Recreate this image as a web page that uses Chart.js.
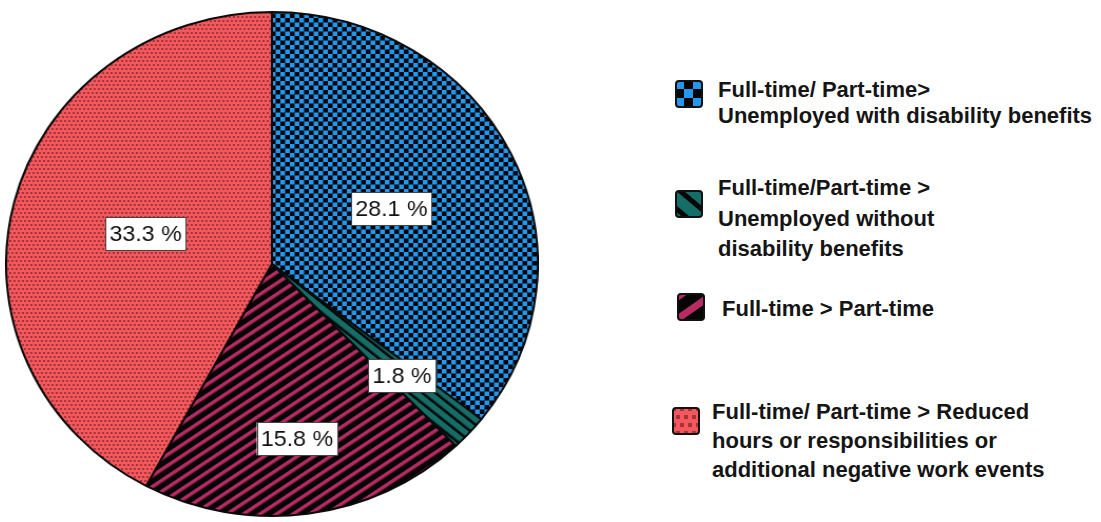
<!DOCTYPE html>
<html>
<head>
<meta charset="utf-8">
<script src="https://cdn.jsdelivr.net/npm/chart.js@4.4.1/dist/chart.umd.min.js"></script>
<style>
  html, body { margin: 0; padding: 0; background: #fff; }
  body { width: 1101px; height: 522px; position: relative; overflow: hidden; }
  #pieWrap { position: absolute; left: 5px; top: 0; width: 506px; height: 522px;
             transform: scaleX(1.055); transform-origin: 0 0; }
  .item { position: absolute; font-family: "Liberation Sans", Arial, sans-serif;
          font-weight: bold; font-size: 22px; color: #151515; white-space: nowrap; }
  .swatch { position: absolute; }
</style>
</head>
<body>
<div id="pieWrap"><canvas id="pieCanvas"></canvas></div>
<div id="legend"></div>

<script>
// data
const categories = [
    "Full-time/ Part-time> Unemployed with disability benefits",
    "Full-time/Part-time > Unemployed without disability benefits",
    "Full-time > Part-time",
    "Full-time/ Part-time > Reduced hours or responsibilities or additional negative work events"
];
const shares = [28.1, 1.8, 15.8, 33.3]; // percent
const valueLabels = ["28.1 %", "1.8 %", "15.8 %", "33.3 %"];

// legend lines as they wrap in the figure
const legendLines = [
    ["Full-time/ Part-time>", "Unemployed with disability benefits"],
    ["Full-time/Part-time >", "Unemployed without", "disability benefits"],
    ["Full-time > Part-time"],
    ["Full-time/ Part-time > Reduced", "hours or responsibilities or", "additional negative work events"]
];

// ---- fill patterns ----
function makeTile(w, h) {
    const c = document.createElement("canvas");
    c.width = w;
    c.height = h;
    return c;
}

function checker(ctx, cell, fg, bg) {
    const t = makeTile(cell * 2, cell * 2);
    const g = t.getContext("2d");
    g.fillStyle = bg;
    g.fillRect(0, 0, cell * 2, cell * 2);
    g.fillStyle = fg;
    g.fillRect(0, 0, cell, cell);
    g.fillRect(cell, cell, cell, cell);
    return ctx.createPattern(t, "repeat");
}

function stripes(ctx, period, width, angle, fg, bg) {
    const t = makeTile(period, period);
    const g = t.getContext("2d");
    g.fillStyle = bg;
    g.fillRect(0, 0, period, period);
    g.fillStyle = fg;
    g.fillRect(0, 0, period, width);
    const p = ctx.createPattern(t, "repeat");
    p.setTransform(new DOMMatrix().rotate(angle));
    return p;
}

function dots(ctx, period, dot, fg, bg) {
    const t = makeTile(period, period * 2);
    const g = t.getContext("2d");
    g.fillStyle = bg;
    g.fillRect(0, 0, period, period * 2);
    g.fillStyle = fg;
    g.fillRect(0, 0, dot, dot);
    g.fillRect(period / 2, period, dot, dot);
    return ctx.createPattern(t, "repeat");
}

function makeFills(ctx, k) {
    return [
        checker(ctx, 4.5 * k, "#2398f0", "#050505"),
        stripes(ctx, 8 * k, 5.5 * k, 40, "#146d66", "#050505"),
        stripes(ctx, 9 * k, 3.5 * k, -35, "#b82a64", "#050505"),
        dots(ctx, 4 * k, 2 * k, "#a3343c", "#f3585c")
    ];
}

// ---- boxed value labels ----
const boxLabels = {
    id: "boxLabels",
    afterDatasetsDraw(chart, args, opts) {
        const ctx = chart.ctx;
        const arcs = chart.getDatasetMeta(0).data;
        ctx.save();
        ctx.font = "22px 'Liberation Sans', Arial, sans-serif";
        ctx.textAlign = "center";
        ctx.textBaseline = "middle";
        arcs.forEach((arc, i) => {
            const mid = (arc.startAngle + arc.endAngle) / 2;
            const r = arc.outerRadius * opts.radius[i];
            const x = arc.x + Math.cos(mid) * r;
            const y = arc.y + Math.sin(mid) * r;
            const text = valueLabels[i];
            const w = ctx.measureText(text).width + 8;
            const h = 33;
            ctx.fillStyle = "#ffffff";
            ctx.fillRect(x - w / 2, y - h / 2, w, h);
            ctx.strokeStyle = "#444";
            ctx.lineWidth = 1;
            ctx.strokeRect(Math.round(x - w / 2) + 0.5, Math.round(y - h / 2) + 0.5, Math.round(w), h);
            ctx.fillStyle = "#111";
            ctx.fillText(text, x, y + 1);
        });
        ctx.restore();
    }
};

const canvas = document.getElementById("pieCanvas");
const pieCtx = canvas.getContext("2d");

new Chart(canvas, {
    type: "pie",
    data: {
        labels: categories,
        datasets: [{
            data: shares,
            backgroundColor: makeFills(pieCtx, 1),
            borderColor: "#0a0a0a",
            borderWidth: 2
        }]
    },
    options: {
        responsive: true,
        maintainAspectRatio: false,
        animation: false,
        layout: { padding: { top: 10, bottom: 4, left: 0, right: 0 } },
        plugins: {
            legend: { display: false },
            tooltip: { enabled: false },
            boxLabels: { radius: [0.5, 0.66, 0.7, 0.49] }
        }
    },
    plugins: [boxLabels]
});

// ---- legend (html) ----
const legendPos = [
    { sx: 675, sy: 80, tx: 718, ty: 77, lh: 26 },
    { sx: 675, sy: 190, tx: 718, ty: 173, lh: 30.5 },
    { sx: 677, sy: 293, tx: 722, ty: 294, lh: 30 },
    { sx: 672, sy: 407, tx: 712, ty: 397, lh: 29 }
];
const legend = document.getElementById("legend");
categories.forEach((cat, i) => {
    const p = legendPos[i];
    const sw = document.createElement("canvas");
    sw.className = "swatch";
    sw.width = 28;
    sw.height = 28;
    sw.style.left = p.sx + "px";
    sw.style.top = p.sy + "px";
    const g = sw.getContext("2d");
    const fills = makeFills(g, 2);
    g.beginPath();
    g.roundRect(1, 1, 26, 26, 3);
    g.fillStyle = fills[i];
    g.fill();
    g.lineWidth = 2;
    g.strokeStyle = "#111";
    g.stroke();
    legend.appendChild(sw);

    const div = document.createElement("div");
    div.className = "item";
    div.style.left = p.tx + "px";
    div.style.top = p.ty + "px";
    div.style.lineHeight = p.lh + "px";
    div.title = cat;
    div.innerHTML = legendLines[i].join("<br>");
    legend.appendChild(div);
});
</script>
</body>
</html>
